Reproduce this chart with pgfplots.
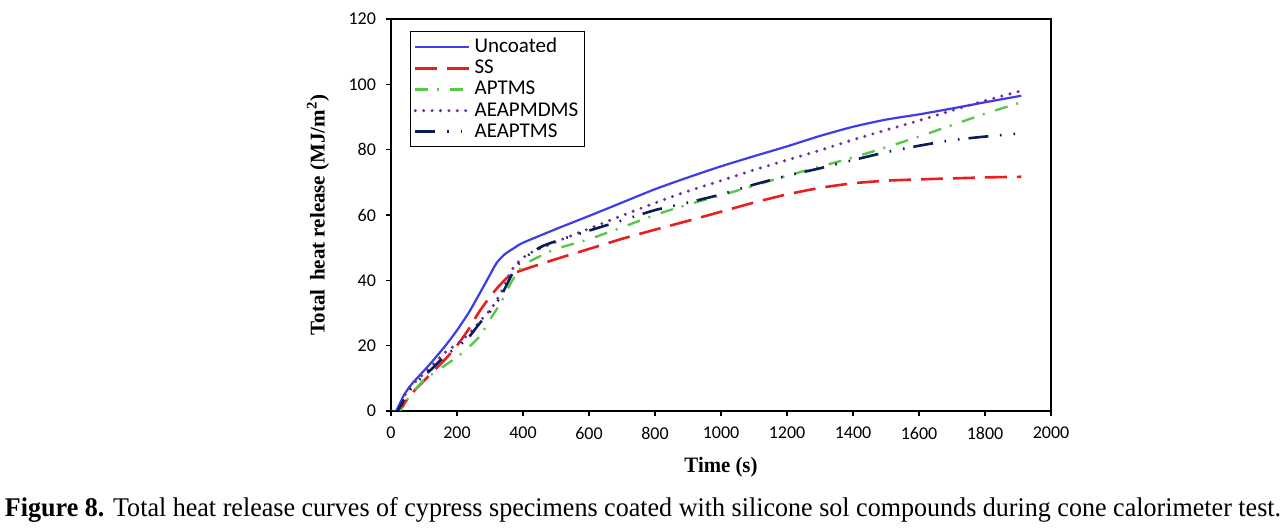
\documentclass[border=0pt]{standalone}
\usepackage{pgfplots}
\pgfplotsset{compat=1.18}
\usepackage{pgfplotstable}
\usepackage{graphicx}
\usepackage{fontspec}
\setmainfont{Liberation Serif}
\newfontfamily\carlito{Carlito}
\definecolor{cblue}{RGB}{60,60,232}
\definecolor{cred}{RGB}{235,30,30}
\definecolor{cgreen}{RGB}{90,200,70}
\definecolor{cpurple}{RGB}{112,48,160}
\definecolor{cnavy}{RGB}{10,30,85}

\pgfplotstableread{
t v
0 0
15 0
40 5
65 8.5
115 14
165 20
200 24.7
235 30
265 35.3
295 40.8
320 45.3
345 48
375 50
400 51.5
500 55.7
600 59.7
700 63.8
800 67.9
900 71.5
1000 74.9
1100 78
1200 81
1300 84.2
1400 87
1500 89.2
1600 90.8
1700 92.6
1800 94.5
1910 96.5
}\uncoated
\pgfplotstableread{
t v
0 0
25 0
45 3
75 6.7
115 10.8
165 15.9
200 20
235 25
265 30
295 34.3
325 38
360 41.5
400 43.2
500 46.5
600 49.6
700 52.7
800 55.5
900 58.2
1000 61
1100 63.8
1200 66.3
1300 68.3
1400 69.7
1500 70.5
1600 70.9
1700 71.2
1800 71.5
1910 71.7
}\ss
\pgfplotstableread{
t v
0 0
25 0
60 5
100 9.5
150 13
200 16.5
235 19.5
270 23
300 28
335 33.5
365 39.5
400 44.5
450 47.3
500 49.6
600 52.6
700 56.2
800 60
900 63.2
1000 66
1100 69
1200 72
1300 74.8
1400 77.6
1500 80.7
1600 84
1700 87.5
1800 91
1910 94.5
}\aptms
\pgfplotstableread{
t v
0 0
20 0
50 6.5
85 10
125 14
165 18
200 20.5
235 23.5
270 27.5
305 31.5
335 36.5
365 43
395 46.5
430 48.8
500 51.8
600 55.8
700 59.8
800 63.7
900 67.3
1000 70.5
1100 73.8
1200 76.8
1300 79.8
1400 83
1500 86
1600 88.9
1700 92
1800 95
1910 98
}\aeapmdms
\pgfplotstableread{
t v
0 0
20 0
50 5.5
85 9.5
125 13
165 17
200 19.5
235 22.5
270 27
305 31
335 35.5
365 41.5
395 46
450 50
500 52
600 55.2
700 58.3
800 61.5
900 63.8
1000 66.3
1100 69.3
1200 72
1300 74.3
1400 76.8
1500 79.2
1600 81.2
1700 82.9
1800 84
1910 85
}\aeaptms

\begin{document}
\begin{tikzpicture}
\useasboundingbox (0,0) rectangle (643.5pt,264pt);
\begin{axis}[
  at={(195.5pt,58.5pt)}, anchor=south west,
  scale only axis, width=330pt, height=196pt,
  xmin=0, xmax=2000, ymin=0, ymax=120,
  xtick={0,200,...,2000}, ytick={0,20,...,120},
  tick align=outside, major tick length=2.5pt,
  xtick pos=bottom, ytick pos=left,
  axis line style={line width=0.75pt},
  every tick/.style={black, line width=0.6pt},
  /pgf/number format/1000 sep={},
  /pgf/number format/assume math mode=true,
  ticklabel style={font=\carlito\fontsize{9}{10}\selectfont},
  xticklabel style={yshift=-2pt},
  yticklabel style={xshift=-1.5pt},
  xlabel={\resizebox{36.5pt}{\height}{\fontsize{11}{13}\selectfont\bfseries Time (s)}},
  xlabel style={at={(axis description cs:0.5,0)}, anchor=center, yshift=-28pt},
  ylabel={\fontsize{10.5}{12}\selectfont\bfseries Total\, heat release (MJ/m$^{\mathbf{2}}$)},
  ylabel style={at={(axis description cs:0,0.5)}, anchor=center, xshift=0pt, yshift=36.5pt},
  legend style={at={(0.0288,0.969)}, anchor=north west, draw=black, line width=0.6pt,
    font=\carlito\fontsize{10.5}{11}\selectfont, inner sep=1.5pt, row sep=-1.4pt,
    nodes={inner sep=1.8pt}},
  legend cell align=left,
  legend image code/.code={\draw[#1] (3pt,0pt) -- (30pt,0pt);},
]
\addplot[cblue, line width=1.1pt, smooth, tension=0.4] table[x=t,y=v]{\uncoated};
\addlegendentry{Uncoated}
\addplot[cred, line width=1.3pt, dash pattern=on 11pt off 5pt, smooth, tension=0.4] table[x=t,y=v]{\ss};
\addlegendentry{SS}
\addplot[cgreen, line width=1.2pt, dash pattern=on 6.5pt off 4.5pt on 1pt off 5.5pt, smooth, tension=0.4] table[x=t,y=v]{\aptms};
\addlegendentry{APTMS}
\addplot[cpurple, line width=1.7pt, line cap=round, dash pattern=on 0pt off 4.2pt, smooth, tension=0.4] table[x=t,y=v]{\aeapmdms};
\addlegendentry{AEAPMDMS}
\addplot[cnavy, line width=1.3pt, dash pattern=on 10pt off 5.8pt on 0.8pt off 6pt on 0.8pt off 4.5pt, smooth, tension=0.4] table[x=t,y=v]{\aeaptms};
\addlegendentry{AEAPTMS}
\end{axis}
\node[anchor=center, inner sep=0pt] at (321.5pt,9pt)
  {\resizebox{638pt}{\height}{\fontsize{13.5}{15}\selectfont\textbf{Figure 8.} Total heat release curves of cypress specimens coated with silicone sol compounds during cone calorimeter test.}};
\end{tikzpicture}
\end{document}
